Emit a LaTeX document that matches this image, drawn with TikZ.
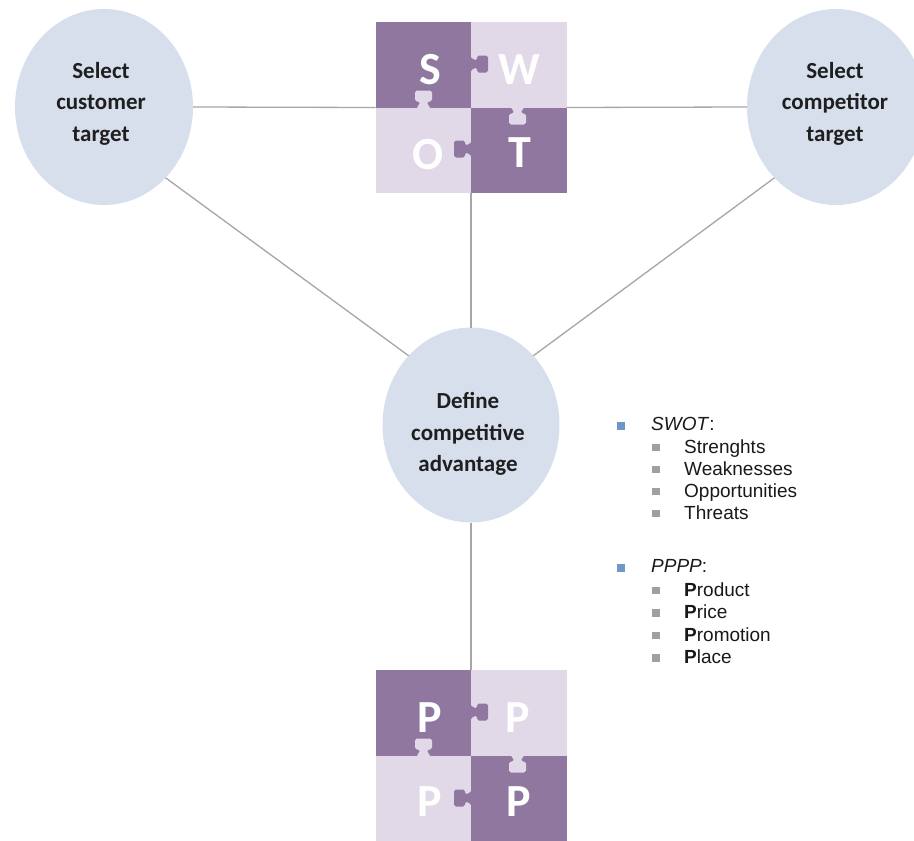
\documentclass[tikz,border=0pt]{standalone}
\usepackage{fontspec}
\newfontfamily\calfont{Carlito}
\newfontfamily\arifont{Liberation Sans}
\usetikzlibrary{shapes.geometric}
\definecolor{pdark}{RGB}{143,119,160}
\definecolor{plight}{RGB}{225,217,232}
\definecolor{bubblefill}{RGB}{214,223,235}
\definecolor{linkgray}{RGB}{166,166,166}
\definecolor{bulletblue}{RGB}{112,150,200}
\definecolor{bulletgray}{RGB}{160,160,160}
\begin{document}
\begin{tikzpicture}[x=1pt,y=-1pt,
  bubble/.style={ellipse, fill=bubblefill, inner sep=0pt, outer sep=0pt,
    minimum width=178pt, minimum height=196pt},
  bubbletext/.style={align=center, inner sep=0pt, text=black!88,
    font=\calfont\bfseries\fontsize{23}{31.5}\selectfont},
  link/.style={draw=linkgray, line width=1.3pt},
  board/.style={minimum width=191pt, minimum height=171pt, inner sep=0pt, outer sep=0pt},
  tileletter/.style={font=\calfont\bfseries\fontsize{46}{46}\selectfont, text=white, inner sep=0pt},
  % jigsaw tab pointing along +x: flared base, narrow neck, wide head
  pics/knob/.style={code={
    \fill[#1, rounded corners=1.8pt]
      (-1,-6.5) -- (1,-6.5) -- (3.5,-3.5) -- (6,-3.5) -- (6,-8.5) -- (17,-8.5)
      -- (17,8.5) -- (6,8.5) -- (6,3.5) -- (3.5,3.5) -- (1,6.5) -- (-1,6.5) -- cycle;}},
  mainitem/.style={anchor=base west, inner sep=0pt, text=black!90,
    font=\arifont\fontsize{19}{22}\selectfont},
  subitem/.style={anchor=base west, inner sep=0pt, text=black!90,
    font=\arifont\fontsize{19}{22}\selectfont},
  bluebox/.style={fill=bulletblue, minimum size=8pt, inner sep=0pt},
  graybox/.style={fill=bulletgray, minimum size=7.5pt, inner sep=0pt},
]
\useasboundingbox (0,0) rectangle (914,841);
\clip (0,0) rectangle (914,841);

% ---- the three stages ----
\node[bubble] (cust) at (104,107) {};
\node[bubble] (comp) at (836,107) {};
\node[bubble, minimum width=177pt, minimum height=195pt] (adv) at (471,425) {};
\node[bubbletext] (custtext) at (101,103.5) {Select\\customer\\target};
\node[bubbletext] (comptext) at (835,103.5) {Select\\competitor\\target};
\node[bubbletext] (advtext) at (468,434) {Define\\competitive\\advantage};

% ---- SWOT jigsaw ----
\node[board] (swot) at (471,107.5) {};
\fill[pdark]  (swot.north west) rectangle (swot.center);
\fill[plight] (swot.north) rectangle (swot.east);
\fill[plight] (swot.west) rectangle (swot.south);
\fill[pdark]  (swot.center) rectangle (swot.south east);
\pic at (471,64) {knob=pdark};
\pic[rotate=90] at (423.5,107.5) {knob=plight};
\pic[rotate=-90] at (517.5,107.5) {knob=plight};
\pic[rotate=180] at (471,149) {knob=pdark};
\node[tileletter] (ls) at (430,70) {S};
\node[tileletter] (lw) at (519,70) {W};
\node[tileletter] (lo) at (428,155) {O};
\node[tileletter] (lt) at (520,153) {T};

% ---- PPPP jigsaw ----
\node[board] (pppp) at (471,755.5) {};
\fill[pdark]  (pppp.north west) rectangle (pppp.center);
\fill[plight] (pppp.north) rectangle (pppp.east);
\fill[plight] (pppp.west) rectangle (pppp.south);
\fill[pdark]  (pppp.center) rectangle (pppp.south east);
\pic at (471,712) {knob=pdark};
\pic[rotate=90] at (423.5,755.5) {knob=plight};
\pic[rotate=-90] at (517.5,755.5) {knob=plight};
\pic[rotate=180] at (471,798) {knob=pdark};
\node[tileletter] (lp1) at (430,718) {P};
\node[tileletter] (lp2) at (518,718) {P};
\node[tileletter] (lp3) at (430,802) {P};
\node[tileletter] (lp4) at (519,802) {P};

% ---- connectors ----
\draw[link] (cust.east) -- (swot.west);
\draw[link] (swot.east) -- (comp.west);
\draw[link] (swot.south) -- (adv.north);
\draw[link] (cust.-49) -- (adv.132);
\draw[link] (comp.-131) -- (adv.48.5);
\draw[link] (adv.south) -- (pppp.north);

% ---- legend ----
\node[bluebox] (b1) at (621,426) {};
\node[mainitem] (h1) at (651,430) {\textit{SWOT}:};
\foreach \t [count=\i] in {Strenghts,Weaknesses,Opportunities,Threats} {
  \pgfmathsetmacro\yb{453+22*(\i-1)}
  \node[graybox] (sb\i) at (656,\yb-5.5) {};
  \node[subitem] (st\i) at (684,\yb) {\t};
}
\node[bluebox] (b2) at (621,568) {};
\node[mainitem] (h2) at (651,572) {\textit{PPPP}:};
\foreach \t [count=\i] in {{\textbf{P}roduct},{\textbf{P}rice},{\textbf{P}romotion},{\textbf{P}lace}} {
  \pgfmathsetmacro\yb{596+22.5*(\i-1)}
  \node[graybox] (pb\i) at (656,\yb-5.5) {};
  \node[subitem] (pt\i) at (684,\yb) {\t};
}
\end{tikzpicture}
\end{document}
